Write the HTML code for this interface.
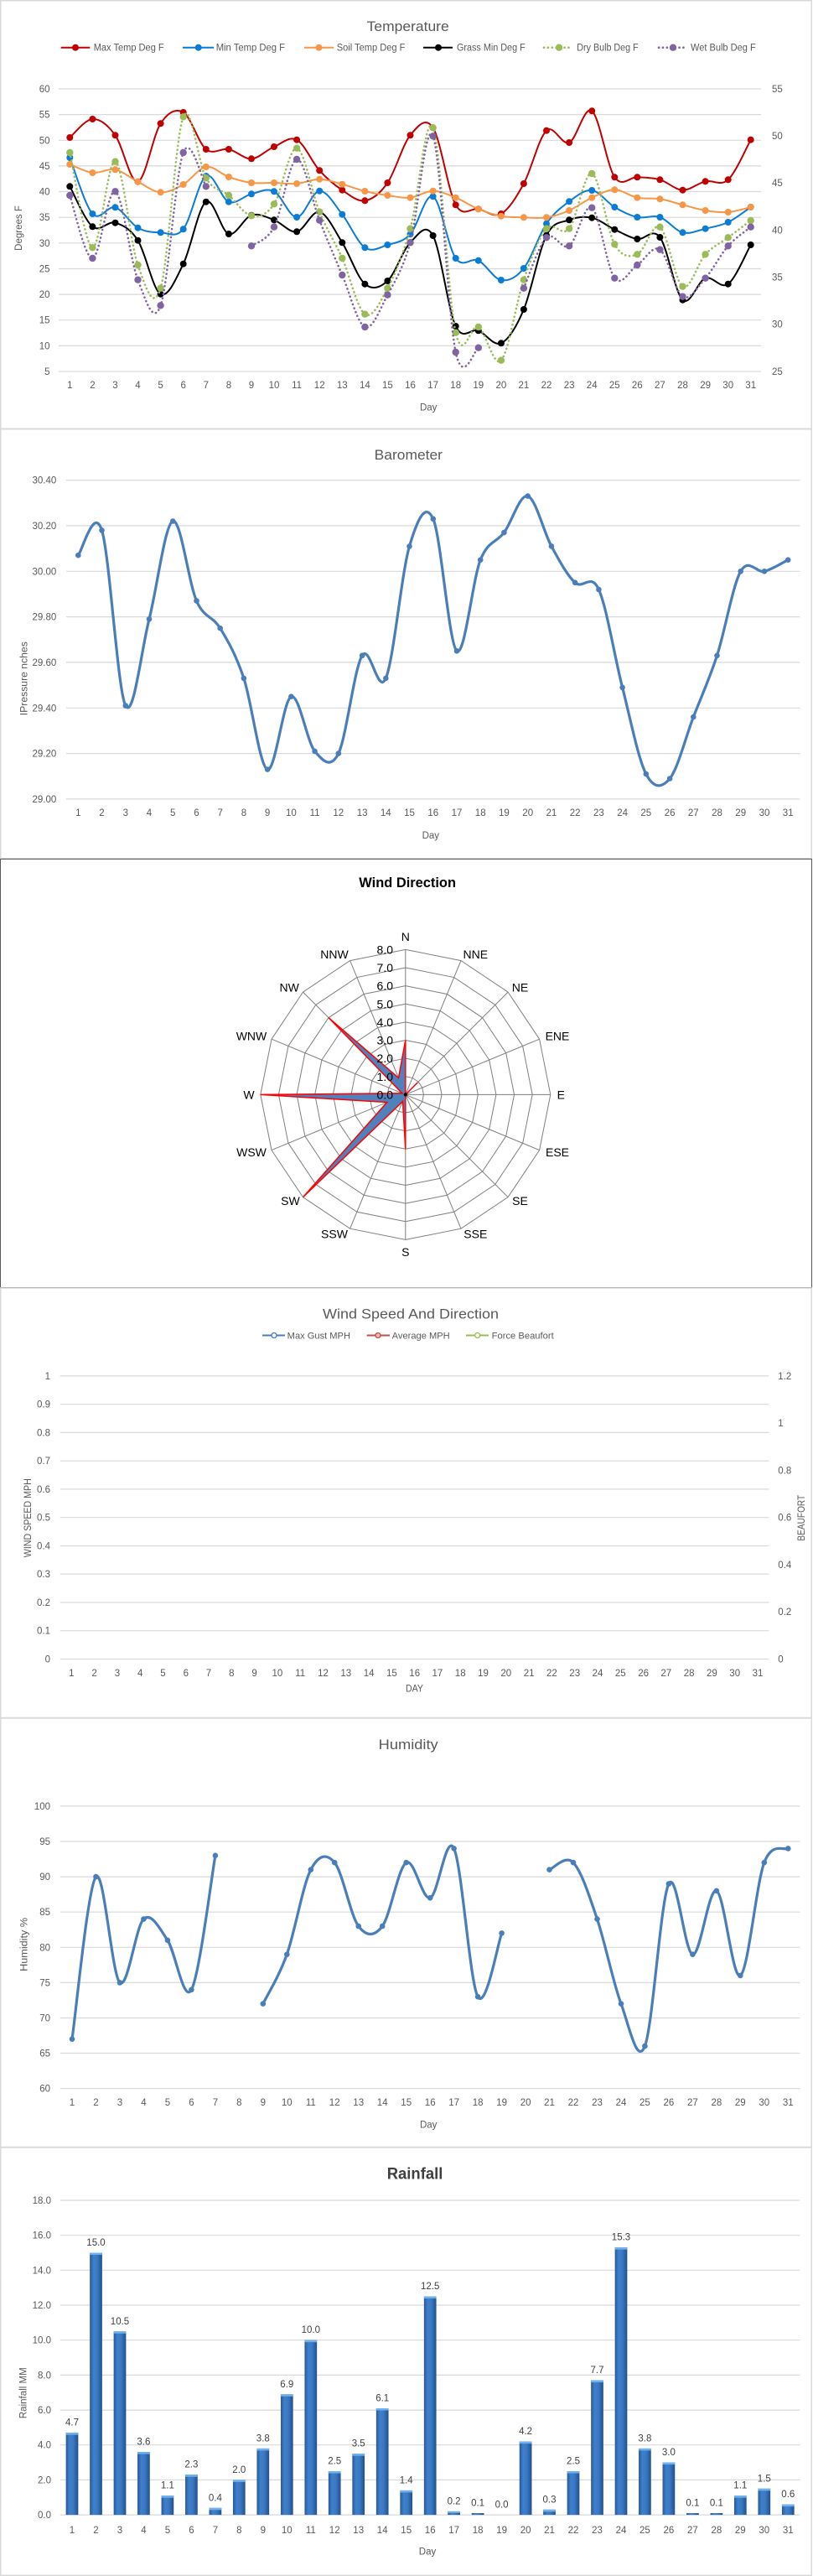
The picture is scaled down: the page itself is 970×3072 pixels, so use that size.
<!DOCTYPE html>
<html><head><meta charset="utf-8"><title>Weather Charts</title>
<style>
html,body{margin:0;padding:0;background:#fff;}
svg{display:block;}
text{font-family:"Liberation Sans",Arial,sans-serif;}
.t{fill:#595959;font-size:11.5px;}
.ttl{fill:#595959;font-size:17px;}
.ax{fill:#595959;font-size:11.5px;}
.wd{fill:#000;font-size:14px;}
.g line{stroke:#d9d9d9;stroke-width:1.2;}
</style></head>
<body>
<svg id="root" width="970" height="3072" viewBox="0 0 970 3072">
<defs>
<marker id="mRed" viewBox="-6 -6 12 12" markerWidth="12" markerHeight="12" refX="0" refY="0" markerUnits="userSpaceOnUse"><circle r="4" fill="#C00000"/></marker>
<marker id="mBlu" viewBox="-6 -6 12 12" markerWidth="12" markerHeight="12" refX="0" refY="0" markerUnits="userSpaceOnUse"><circle r="4" fill="#0A7CD6"/></marker>
<marker id="mOra" viewBox="-6 -6 12 12" markerWidth="12" markerHeight="12" refX="0" refY="0" markerUnits="userSpaceOnUse"><circle r="4" fill="#F79646"/></marker>
<marker id="mBlk" viewBox="-6 -6 12 12" markerWidth="12" markerHeight="12" refX="0" refY="0" markerUnits="userSpaceOnUse"><circle r="4" fill="#000"/></marker>
<marker id="mGrn" viewBox="-6 -6 12 12" markerWidth="12" markerHeight="12" refX="0" refY="0" markerUnits="userSpaceOnUse"><circle r="4.2" fill="#9BBB59"/></marker>
<marker id="mPur" viewBox="-6 -6 12 12" markerWidth="12" markerHeight="12" refX="0" refY="0" markerUnits="userSpaceOnUse"><circle r="4.2" fill="#8064A2"/></marker>
<marker id="mB" viewBox="-6 -6 12 12" markerWidth="12" markerHeight="12" refX="0" refY="0" markerUnits="userSpaceOnUse"><circle r="3.3" fill="#4A7EBB"/></marker>
<linearGradient id="barG" x1="0" y1="0" x2="1" y2="0">
<stop offset="0" stop-color="#2A5894"/><stop offset="0.3" stop-color="#3E80CE"/><stop offset="0.6" stop-color="#3A79C3"/><stop offset="1" stop-color="#23508A"/>
</linearGradient>
</defs>

<!-- ================= TEMPERATURE ================= -->
<rect x="0.75" y="0.75" width="967.5" height="510.5" fill="#fff" stroke="#d9d9d9" stroke-width="1.5"/>
<text class="ttl" x="437.7" y="37" textLength="98" lengthAdjust="spacingAndGlyphs">Temperature</text>
<g font-size="11.5" fill="#595959">
<line x1="72.7" y1="56.7" x2="107.3" y2="56.7" stroke="#C00000" stroke-width="2"/><circle cx="90" cy="56.7" r="4" fill="#C00000"/>
<text x="111.7" y="60.7" textLength="84" lengthAdjust="spacingAndGlyphs">Max Temp Deg F</text>
<line x1="218" y1="56.7" x2="255" y2="56.7" stroke="#0A7CD6" stroke-width="2"/><circle cx="236.7" cy="56.7" r="4" fill="#0A7CD6"/>
<text x="257.7" y="60.7" textLength="82.3" lengthAdjust="spacingAndGlyphs">Min Temp Deg F</text>
<line x1="363" y1="56.7" x2="398" y2="56.7" stroke="#F79646" stroke-width="2"/><circle cx="380.5" cy="56.7" r="4" fill="#F79646"/>
<text x="401.7" y="60.7" textLength="81.7" lengthAdjust="spacingAndGlyphs">Soil Temp Deg F</text>
<line x1="505" y1="56.7" x2="540" y2="56.7" stroke="#000" stroke-width="2"/><circle cx="523" cy="56.7" r="4" fill="#000"/>
<text x="545" y="60.7" textLength="81.7" lengthAdjust="spacingAndGlyphs">Grass Min Deg F</text>
<line x1="649" y1="56.7" x2="683" y2="56.7" stroke="#9BBB59" stroke-width="2.6" stroke-dasharray="0.1 4.8" stroke-linecap="round"/><circle cx="667" cy="56.7" r="4.2" fill="#9BBB59"/>
<text x="688.3" y="60.7" textLength="73.3" lengthAdjust="spacingAndGlyphs">Dry Bulb Deg F</text>
<line x1="786" y1="56.7" x2="819" y2="56.7" stroke="#8064A2" stroke-width="2.6" stroke-dasharray="0.1 4.8" stroke-linecap="round"/><circle cx="803" cy="56.7" r="4.2" fill="#8064A2"/>
<text x="824" y="60.7" textLength="77.7" lengthAdjust="spacingAndGlyphs">Wet Bulb Deg F</text>
</g>
<g class="g">
<line x1="70" x2="908" y1="106" y2="106"/><line x1="70" x2="908" y1="136.6" y2="136.6"/><line x1="70" x2="908" y1="167.3" y2="167.3"/><line x1="70" x2="908" y1="197.9" y2="197.9"/><line x1="70" x2="908" y1="228.5" y2="228.5"/><line x1="70" x2="908" y1="259.2" y2="259.2"/><line x1="70" x2="908" y1="289.8" y2="289.8"/><line x1="70" x2="908" y1="320.5" y2="320.5"/><line x1="70" x2="908" y1="351.1" y2="351.1"/><line x1="70" x2="908" y1="381.7" y2="381.7"/><line x1="70" x2="908" y1="412.4" y2="412.4"/><line x1="70" x2="908" y1="443" y2="443"/>
</g>
<g class="t" text-anchor="end">
<text x="59.5" y="110">60</text><text x="59.5" y="140.6">55</text><text x="59.5" y="171.3">50</text><text x="59.5" y="201.9">45</text><text x="59.5" y="232.5">40</text><text x="59.5" y="263.2">35</text><text x="59.5" y="293.8">30</text><text x="59.5" y="324.5">25</text><text x="59.5" y="355.1">20</text><text x="59.5" y="385.7">15</text><text x="59.5" y="416.4">10</text><text x="59.5" y="447">5</text>
</g>
<g class="t">
<text x="921" y="110">55</text><text x="921" y="166">50</text><text x="921" y="222">45</text><text x="921" y="278.3">40</text><text x="921" y="334.3">35</text><text x="921" y="390.3">30</text><text x="921" y="447">25</text>
</g>
<g class="t" text-anchor="middle">
<text x="83.3" y="463">1</text><text x="110.4" y="463">2</text><text x="137.5" y="463">3</text><text x="164.5" y="463">4</text><text x="191.6" y="463">5</text><text x="218.7" y="463">6</text><text x="245.8" y="463">7</text><text x="272.9" y="463">8</text><text x="300" y="463">9</text><text x="327" y="463">10</text><text x="354.1" y="463">11</text><text x="381.2" y="463">12</text><text x="408.3" y="463">13</text><text x="435.4" y="463">14</text><text x="462.4" y="463">15</text><text x="489.5" y="463">16</text><text x="516.6" y="463">17</text><text x="543.7" y="463">18</text><text x="570.8" y="463">19</text><text x="597.9" y="463">20</text><text x="624.9" y="463">21</text><text x="652" y="463">22</text><text x="679.1" y="463">23</text><text x="706.2" y="463">24</text><text x="733.3" y="463">25</text><text x="760.3" y="463">26</text><text x="787.4" y="463">27</text><text x="814.5" y="463">28</text><text x="841.6" y="463">29</text><text x="868.7" y="463">30</text><text x="895.7" y="463">31</text>
</g>
<text class="ax" x="511.2" y="489.7" text-anchor="middle" font-size="12">Day</text>
<text class="ax" x="0" y="0" text-anchor="middle" transform="translate(26,272) rotate(-90)" font-size="12">Degrees F</text>

<polyline class="s" fill="none" stroke="#C00000" stroke-width="2" marker-start="url(#mRed)" marker-mid="url(#mRed)" marker-end="url(#mRed)" points="83.3,164 110.4,142 137.5,161.3 164.5,216.7 191.6,147.3 218.7,134 245.8,178 272.9,178 300,189.3 327,175 354.1,166.7 381.2,203.3 408.3,226.7 435.4,239.3 462.4,218 489.5,161.3 516.6,152.3 543.7,244.3 570.8,249.3 597.9,255 624.9,219 652,155.7 679.1,170 706.2,132.3 733.3,211.3 760.3,211.3 787.4,214.3 814.5,226.7 841.6,216.3 868.7,214.3 895.7,166.7"/>
<polyline class="s" fill="none" stroke="#0A7CD6" stroke-width="2" marker-start="url(#mBlu)" marker-mid="url(#mBlu)" marker-end="url(#mBlu)" points="83.3,188 110.4,255 137.5,247.3 164.5,271.7 191.6,277.3 218.7,273.3 245.8,210 272.9,240.7 300,231.3 327,228.3 354.1,259 381.2,227.7 408.3,255.7 435.4,295.3 462.4,292 489.5,279.3 516.6,234.3 543.7,308 570.8,310.7 597.9,334 624.9,320 652,266.7 679.1,240.3 706.2,227 733.3,247 760.3,259 787.4,259 814.5,277.3 841.6,272.7 868.7,265 895.7,247"/>
<polyline class="s" fill="none" stroke="#F79646" stroke-width="2" marker-start="url(#mOra)" marker-mid="url(#mOra)" marker-end="url(#mOra)" points="83.3,196 110.4,206 137.5,202.3 164.5,216.7 191.6,229.3 218.7,220 245.8,199 272.9,211 300,218 327,218 354.1,219 381.2,213.7 408.3,219.7 435.4,228 462.4,233 489.5,235.7 516.6,227.7 543.7,235.7 570.8,249.3 597.9,257.7 624.9,259.3 652,259.3 679.1,251 706.2,235.7 733.3,226.3 760.3,235.7 787.4,237.3 814.5,244.3 841.6,251 868.7,253 895.7,247"/>
<polyline class="s" fill="none" stroke="#000" stroke-width="2" marker-start="url(#mBlk)" marker-mid="url(#mBlk)" marker-end="url(#mBlk)" points="83.3,222.3 110.4,270.3 137.5,265.7 164.5,286.7 191.6,350.7 218.7,314.7 245.8,240.7 272.9,279 300,256.7 327,262.3 354.1,276.3 381.2,252.7 408.3,289.3 435.4,338.7 462.4,335 489.5,289.3 516.6,281 543.7,389 570.8,394.3 597.9,409.3 624.9,369 652,280.7 679.1,262.3 706.2,259.7 733.3,273.7 760.3,285 787.4,283 814.5,357.7 841.6,331.7 868.7,338.7 895.7,292"/>
<polyline class="s" fill="none" stroke="#9BBB59" stroke-width="2.6" stroke-dasharray="0.1 4.8" stroke-linecap="round" marker-start="url(#mGrn)" marker-mid="url(#mGrn)" marker-end="url(#mGrn)" points="83.3,182 110.4,295.3 137.5,192.7 164.5,316 191.6,343.7 218.7,139.3 245.8,212.3 272.9,233 300,257.3 327,243.3 354.1,176.7 381.2,252.7 408.3,308 435.4,374.7 462.4,343.7 489.5,272.7 516.6,152.3 543.7,396.7 570.8,390 597.9,429.7 624.9,333.7 652,272.7 679.1,272.7 706.2,207 733.3,291.3 760.3,303.3 787.4,270.7 814.5,341.7 841.6,303.3 868.7,283.3 895.7,263"/>
<polyline class="s" fill="none" stroke="#8064A2" stroke-width="2.6" stroke-dasharray="0.1 4.8" stroke-linecap="round" marker-start="url(#mPur)" marker-mid="url(#mPur)" marker-end="url(#mPur)" points="83.3,233 110.4,308 137.5,228.3 164.5,333.7 191.6,364.3 218.7,182 245.8,222.3"/>
<polyline class="s" fill="none" stroke="#8064A2" stroke-width="2.6" stroke-dasharray="0.1 4.8" stroke-linecap="round" marker-start="url(#mPur)" marker-mid="url(#mPur)" marker-end="url(#mPur)" points="300,293.3 327,270.7 354.1,190 381.2,262.7 408.3,328 435.4,390 462.4,351.7 489.5,289.3 516.6,162.3 543.7,420 570.8,414.7"/>
<polyline class="s" fill="none" stroke="#8064A2" stroke-width="2.6" stroke-dasharray="0.1 4.8" stroke-linecap="round" marker-start="url(#mPur)" marker-mid="url(#mPur)" marker-end="url(#mPur)" points="624.9,343.7 652,283.3 679.1,293.3 706.2,247.7 733.3,331.7 760.3,316 787.4,297.7 814.5,353.7 841.6,331.7 868.7,293.3 895.7,270.7"/>

<!-- ================= BAROMETER ================= -->
<rect x="0.75" y="511.75" width="967.5" height="512" fill="#fff" stroke="#d9d9d9" stroke-width="1.5"/>
<text class="ttl" x="446.7" y="548.2" textLength="81.3" lengthAdjust="spacingAndGlyphs">Barometer</text>
<g class="g">
<line x1="79" x2="954.3" y1="572.6" y2="572.6"/><line x1="79" x2="954.3" y1="626.9" y2="626.9"/><line x1="79" x2="954.3" y1="681.3" y2="681.3"/><line x1="79" x2="954.3" y1="735.6" y2="735.6"/><line x1="79" x2="954.3" y1="789.9" y2="789.9"/><line x1="79" x2="954.3" y1="844.3" y2="844.3"/><line x1="79" x2="954.3" y1="898.6" y2="898.6"/><line x1="79" x2="954.3" y1="952.9" y2="952.9"/>
</g>
<g class="t" text-anchor="end">
<text x="67.3" y="576.6">30.40</text><text x="67.3" y="630.9">30.20</text><text x="67.3" y="685.3">30.00</text><text x="67.3" y="739.6">29.80</text><text x="67.3" y="793.9">29.60</text><text x="67.3" y="848.3">29.40</text><text x="67.3" y="902.6">29.20</text><text x="67.3" y="956.9">29.00</text>
</g>
<g class="t" text-anchor="middle">
<text x="93.3" y="973.1">1</text><text x="121.5" y="973.1">2</text><text x="149.8" y="973.1">3</text><text x="178" y="973.1">4</text><text x="206.2" y="973.1">5</text><text x="234.5" y="973.1">6</text><text x="262.7" y="973.1">7</text><text x="290.9" y="973.1">8</text><text x="319.1" y="973.1">9</text><text x="347.4" y="973.1">10</text><text x="375.6" y="973.1">11</text><text x="403.8" y="973.1">12</text><text x="432.1" y="973.1">13</text><text x="460.3" y="973.1">14</text><text x="488.5" y="973.1">15</text><text x="516.8" y="973.1">16</text><text x="545" y="973.1">17</text><text x="573.2" y="973.1">18</text><text x="601.4" y="973.1">19</text><text x="629.7" y="973.1">20</text><text x="657.9" y="973.1">21</text><text x="686.1" y="973.1">22</text><text x="714.4" y="973.1">23</text><text x="742.6" y="973.1">24</text><text x="770.8" y="973.1">25</text><text x="799.1" y="973.1">26</text><text x="827.3" y="973.1">27</text><text x="855.5" y="973.1">28</text><text x="883.7" y="973.1">29</text><text x="912" y="973.1">30</text><text x="940.2" y="973.1">31</text>
</g>
<text class="ax" x="513.8" y="999.8" text-anchor="middle" font-size="12">Day</text>
<text class="ax" x="0" y="0" text-anchor="middle" transform="translate(32.5,809.2) rotate(-90)" textLength="88" lengthAdjust="spacingAndGlyphs">IPressure nches</text>
<polyline class="s" fill="none" stroke="#4A7EBB" stroke-width="3.2" stroke-linejoin="round" marker-start="url(#mB)" marker-mid="url(#mB)" marker-end="url(#mB)" points="93.3,662.2 121.5,632.4 149.8,841.5 178,738.3 206.2,621.5 234.5,716.6 262.7,749.2 290.9,808.9 319.1,917.6 347.4,830.7 375.6,895.9 403.8,898.6 432.1,781.8 460.3,808.9 488.5,651.4 516.8,618.8 545,776.3 573.2,667.7 601.4,635.1 629.7,591.6 657.9,651.4 686.1,694.8 714.4,703 742.6,819.8 770.8,923 799.1,928.5 827.3,855.1 855.5,781.8 883.7,681.3 912,681.3 940.2,667.7"/>

<!-- ================= WIND DIRECTION ================= -->
<rect x="0.5" y="1024.5" width="968" height="511" fill="#fff" stroke="#595959" stroke-width="1"/>
<text x="428.3" y="1057.8" font-size="16.5" font-weight="bold" fill="#000" textLength="115.7" lengthAdjust="spacingAndGlyphs">Wind Direction</text>
<g transform="translate(483.8,1305.4)" fill="none" stroke="#7f7f7f" stroke-width="1">
<polygon id="ring" points="0,-21.625 8.276,-19.979 15.291,-15.291 19.979,-8.276 21.625,0 19.979,8.276 15.291,15.291 8.276,19.979 0,21.625 -8.276,19.979 -15.291,15.291 -19.979,8.276 -21.625,0 -19.979,-8.276 -15.291,-15.291 -8.276,-19.979"/>
<polygon points="0,-43.25 16.552,-39.958 30.582,-30.582 39.958,-16.552 43.25,0 39.958,16.552 30.582,30.582 16.552,39.958 0,43.25 -16.552,39.958 -30.582,30.582 -39.958,16.552 -43.25,0 -39.958,-16.552 -30.582,-30.582 -16.552,-39.958"/>
<polygon points="0,-64.875 24.828,-59.937 45.873,-45.873 59.937,-24.828 64.875,0 59.937,24.828 45.873,45.873 24.828,59.937 0,64.875 -24.828,59.937 -45.873,45.873 -59.937,24.828 -64.875,0 -59.937,-24.828 -45.873,-45.873 -24.828,-59.937"/>
<polygon points="0,-86.5 33.104,-79.916 61.164,-61.164 79.916,-33.104 86.5,0 79.916,33.104 61.164,61.164 33.104,79.916 0,86.5 -33.104,79.916 -61.164,61.164 -79.916,33.104 -86.5,0 -79.916,-33.104 -61.164,-61.164 -33.104,-79.916"/>
<polygon points="0,-108.125 41.38,-99.895 76.455,-76.455 99.895,-41.38 108.125,0 99.895,41.38 76.455,76.455 41.38,99.895 0,108.125 -41.38,99.895 -76.455,76.455 -99.895,41.38 -108.125,0 -99.895,-41.38 -76.455,-76.455 -41.38,-99.895"/>
<polygon points="0,-129.75 49.656,-119.874 91.746,-91.746 119.874,-49.656 129.75,0 119.874,49.656 91.746,91.746 49.656,119.874 0,129.75 -49.656,119.874 -91.746,91.746 -119.874,49.656 -129.75,0 -119.874,-49.656 -91.746,-91.746 -49.656,-119.874"/>
<polygon points="0,-151.375 57.932,-139.853 107.037,-107.037 139.853,-57.932 151.375,0 139.853,57.932 107.037,107.037 57.932,139.853 0,151.375 -57.932,139.853 -107.037,107.037 -139.853,57.932 -151.375,0 -139.853,-57.932 -107.037,-107.037 -57.932,-139.853"/>
<polygon points="0,-173 66.2,-159.8 122.3,-122.3 159.8,-66.2 173,0 159.8,66.2 122.3,122.3 66.2,159.8 0,173 -66.2,159.8 -122.3,122.3 -159.8,66.2 -173,0 -159.8,-66.2 -122.3,-122.3 -66.2,-159.8"/>
<path d="M0 0L0 -173M0 0L66.2 -159.8M0 0L122.3 -122.3M0 0L159.8 -66.2M0 0L173 0M0 0L159.8 66.2M0 0L122.3 122.3M0 0L66.2 159.8M0 0L0 173M0 0L-66.2 159.8M0 0L-122.3 122.3M0 0L-159.8 66.2M0 0L-173 0M0 0L-159.8 -66.2M0 0L-122.3 -122.3M0 0L-66.2 -159.8"/>
</g>
<polygon fill="#4F81BD" stroke="#FF0000" stroke-width="1.5" stroke-linejoin="miter" points="483.8,1240.5 483.8,1305.4 498.3,1290.9 483.8,1305.4 483.8,1305.4 483.8,1305.4 483.8,1305.4 483.8,1305.4 483.8,1370.3 480.5,1313.4 361.5,1427.7 461.8,1314.5 310.8,1305.4 479.8,1303.8 392.1,1213.7 475.5,1285.4"/>
<circle cx="483.8" cy="1305.4" r="2" fill="#000"/>
<g class="wd" text-anchor="end">
<text x="469" y="1310.4">0.0</text><text x="469" y="1288.8">1.0</text><text x="469" y="1267.2">2.0</text><text x="469" y="1245.5">3.0</text><text x="469" y="1223.9">4.0</text><text x="469" y="1202.3">5.0</text><text x="469" y="1180.6">6.0</text><text x="469" y="1159">7.0</text><text x="469" y="1137.4">8.0</text>
</g>
<g class="wd" text-anchor="middle">
<text x="483.8" y="1121.8">N</text><text x="567.3" y="1143.2">NNE</text><text x="620.5" y="1182.5">NE</text><text x="665" y="1240.7">ENE</text><text x="669.3" y="1310.4">E</text><text x="665" y="1379">ESE</text><text x="620.5" y="1437">SE</text><text x="567.3" y="1476.4">SSE</text><text x="483.8" y="1497.9">S</text><text x="399" y="1476.4">SSW</text><text x="346.4" y="1437">SW</text><text x="300" y="1379">WSW</text><text x="297" y="1310.4">W</text><text x="300" y="1240.7">WNW</text><text x="345.2" y="1182.5">NW</text><text x="399" y="1143.2">NNW</text>
</g>

<!-- ================= WIND SPEED ================= -->
<rect x="0.75" y="1536" width="967.5" height="512.5" fill="#fff" stroke="#d9d9d9" stroke-width="1.5"/>
<text class="ttl" x="385" y="1572.5" textLength="210" lengthAdjust="spacingAndGlyphs">Wind Speed And Direction</text>
<g font-size="11" fill="#595959">
<line x1="313" y1="1592.5" x2="340" y2="1592.5" stroke="#4A7EBB" stroke-width="2"/><circle cx="327" cy="1592.5" r="3" fill="#fff" stroke="#4A7EBB" stroke-width="1.3"/>
<text x="342.7" y="1596.5" textLength="75.3" lengthAdjust="spacingAndGlyphs">Max Gust MPH</text>
<line x1="437.7" y1="1592.5" x2="465" y2="1592.5" stroke="#C0504D" stroke-width="2"/><circle cx="451" cy="1592.5" r="3" fill="#F2B8B6" stroke="#C0504D" stroke-width="1.3"/>
<text x="467.7" y="1596.5" textLength="69" lengthAdjust="spacingAndGlyphs">Average MPH</text>
<line x1="556" y1="1592.5" x2="583" y2="1592.5" stroke="#9BBB59" stroke-width="2"/><circle cx="569.7" cy="1592.5" r="3" fill="#fff" stroke="#9BBB59" stroke-width="1.3"/>
<text x="586.7" y="1596.5" textLength="74" lengthAdjust="spacingAndGlyphs">Force Beaufort</text>
</g>
<g class="g">
<line x1="71.7" x2="917.3" y1="1640.9" y2="1640.9"/><line x1="71.7" x2="917.3" y1="1674.7" y2="1674.7"/><line x1="71.7" x2="917.3" y1="1708.4" y2="1708.4"/><line x1="71.7" x2="917.3" y1="1742.2" y2="1742.2"/><line x1="71.7" x2="917.3" y1="1775.9" y2="1775.9"/><line x1="71.7" x2="917.3" y1="1809.7" y2="1809.7"/><line x1="71.7" x2="917.3" y1="1843.5" y2="1843.5"/><line x1="71.7" x2="917.3" y1="1877.2" y2="1877.2"/><line x1="71.7" x2="917.3" y1="1911" y2="1911"/><line x1="71.7" x2="917.3" y1="1944.7" y2="1944.7"/><line x1="71.7" x2="917.3" y1="1978.5" y2="1978.5"/>
</g>
<g class="t" text-anchor="end">
<text x="60" y="1644.9">1</text><text x="60" y="1678.7">0.9</text><text x="60" y="1712.4">0.8</text><text x="60" y="1746.2">0.7</text><text x="60" y="1779.9">0.6</text><text x="60" y="1813.7">0.5</text><text x="60" y="1847.5">0.4</text><text x="60" y="1881.2">0.3</text><text x="60" y="1915">0.2</text><text x="60" y="1948.7">0.1</text><text x="60" y="1982.5">0</text>
</g>
<g class="t">
<text x="928.3" y="1644.9">1.2</text><text x="928.3" y="1701.2">1</text><text x="928.3" y="1757.4">0.8</text><text x="928.3" y="1813.7">0.6</text><text x="928.3" y="1870">0.4</text><text x="928.3" y="1926.2">0.2</text><text x="928.3" y="1982.5">0</text>
</g>
<g class="t" text-anchor="middle">
<text x="85.3" y="1998.8">1</text><text x="112.6" y="1998.8">2</text><text x="139.9" y="1998.8">3</text><text x="167.2" y="1998.8">4</text><text x="194.5" y="1998.8">5</text><text x="221.8" y="1998.8">6</text><text x="249" y="1998.8">7</text><text x="276.3" y="1998.8">8</text><text x="303.6" y="1998.8">9</text><text x="330.9" y="1998.8">10</text><text x="358.2" y="1998.8">11</text><text x="385.5" y="1998.8">12</text><text x="412.8" y="1998.8">13</text><text x="440.1" y="1998.8">14</text><text x="467.4" y="1998.8">15</text><text x="494.7" y="1998.8">16</text><text x="521.9" y="1998.8">17</text><text x="549.2" y="1998.8">18</text><text x="576.5" y="1998.8">19</text><text x="603.8" y="1998.8">20</text><text x="631.1" y="1998.8">21</text><text x="658.4" y="1998.8">22</text><text x="685.7" y="1998.8">23</text><text x="713" y="1998.8">24</text><text x="740.3" y="1998.8">25</text><text x="767.6" y="1998.8">26</text><text x="794.8" y="1998.8">27</text><text x="822.1" y="1998.8">28</text><text x="849.4" y="1998.8">29</text><text x="876.7" y="1998.8">30</text><text x="904" y="1998.8">31</text>
</g>
<text class="ax" x="494.5" y="2017.5" text-anchor="middle" font-size="10" textLength="21" lengthAdjust="spacingAndGlyphs">DAY</text>
<text class="ax" x="0" y="0" text-anchor="middle" transform="translate(36.8,1810.2) rotate(-90)" font-size="9.5" textLength="94" lengthAdjust="spacingAndGlyphs">WIND SPEED MPH</text>
<text class="ax" x="0" y="0" text-anchor="middle" transform="translate(960.2,1810.2) rotate(-90)" font-size="9.5" textLength="54.8" lengthAdjust="spacingAndGlyphs">BEAUFORT</text>

<!-- ================= HUMIDITY ================= -->
<rect x="0.75" y="2049" width="967.5" height="511.5" fill="#fff" stroke="#d9d9d9" stroke-width="1.5"/>
<text class="ttl" x="451.7" y="2085.9" textLength="71" lengthAdjust="spacingAndGlyphs">Humidity</text>
<g class="g">
<line x1="71.7" x2="954.3" y1="2153.9" y2="2153.9"/><line x1="71.7" x2="954.3" y1="2196" y2="2196"/><line x1="71.7" x2="954.3" y1="2238.1" y2="2238.1"/><line x1="71.7" x2="954.3" y1="2280.2" y2="2280.2"/><line x1="71.7" x2="954.3" y1="2322.3" y2="2322.3"/><line x1="71.7" x2="954.3" y1="2364.4" y2="2364.4"/><line x1="71.7" x2="954.3" y1="2406.5" y2="2406.5"/><line x1="71.7" x2="954.3" y1="2448.5" y2="2448.5"/><line x1="71.7" x2="954.3" y1="2490.6" y2="2490.6"/>
</g>
<g class="t" text-anchor="end">
<text x="60" y="2157.9">100</text><text x="60" y="2200">95</text><text x="60" y="2242.1">90</text><text x="60" y="2284.2">85</text><text x="60" y="2326.3">80</text><text x="60" y="2368.4">75</text><text x="60" y="2410.5">70</text><text x="60" y="2452.5">65</text><text x="60" y="2494.6">60</text>
</g>
<g class="t" text-anchor="middle">
<text x="86" y="2510.8">1</text><text x="114.5" y="2510.8">2</text><text x="143" y="2510.8">3</text><text x="171.4" y="2510.8">4</text><text x="199.9" y="2510.8">5</text><text x="228.4" y="2510.8">6</text><text x="256.9" y="2510.8">7</text><text x="285.3" y="2510.8">8</text><text x="313.8" y="2510.8">9</text><text x="342.3" y="2510.8">10</text><text x="370.8" y="2510.8">11</text><text x="399.2" y="2510.8">12</text><text x="427.7" y="2510.8">13</text><text x="456.2" y="2510.8">14</text><text x="484.7" y="2510.8">15</text><text x="513.2" y="2510.8">16</text><text x="541.6" y="2510.8">17</text><text x="570.1" y="2510.8">18</text><text x="598.6" y="2510.8">19</text><text x="627.1" y="2510.8">20</text><text x="655.5" y="2510.8">21</text><text x="684" y="2510.8">22</text><text x="712.5" y="2510.8">23</text><text x="741" y="2510.8">24</text><text x="769.4" y="2510.8">25</text><text x="797.9" y="2510.8">26</text><text x="826.4" y="2510.8">27</text><text x="854.9" y="2510.8">28</text><text x="883.3" y="2510.8">29</text><text x="911.8" y="2510.8">30</text><text x="940.3" y="2510.8">31</text>
</g>
<text class="ax" x="511.2" y="2537.5" text-anchor="middle" font-size="12">Day</text>
<text class="ax" x="0" y="0" text-anchor="middle" transform="translate(32.5,2318.9) rotate(-90)" font-size="12" textLength="64" lengthAdjust="spacingAndGlyphs">Humidity %</text>
<polyline class="s" fill="none" stroke="#4A7EBB" stroke-width="3.2" stroke-linejoin="round" marker-start="url(#mB)" marker-mid="url(#mB)" marker-end="url(#mB)" points="86,2431.7 114.5,2238.1 143,2364.4 171.4,2288.6 199.9,2313.8 228.4,2372.8 256.9,2212.8"/>
<polyline class="s" fill="none" stroke="#4A7EBB" stroke-width="3.2" stroke-linejoin="round" marker-start="url(#mB)" marker-mid="url(#mB)" marker-end="url(#mB)" points="313.8,2389.6 342.3,2330.7 370.8,2229.7 399.2,2221.2 427.7,2297 456.2,2297 484.7,2221.2 513.2,2263.3 541.6,2204.4 570.1,2381.2 598.6,2305.4"/>
<polyline class="s" fill="none" stroke="#4A7EBB" stroke-width="3.2" stroke-linejoin="round" marker-start="url(#mB)" marker-mid="url(#mB)" marker-end="url(#mB)" points="655.5,2229.7 684,2221.2 712.5,2288.6 741,2389.6 769.4,2440.1 797.9,2246.5 826.4,2330.7 854.9,2254.9 883.3,2355.9 911.8,2221.2 940.3,2204.4"/>

<!-- ================= RAINFALL ================= -->
<rect x="0.75" y="2561" width="967.5" height="510.25" fill="#fff" stroke="#d9d9d9" stroke-width="1.5"/>
<text x="461.7" y="2598.6" font-size="19" font-weight="bold" fill="#404040" textLength="66.7" lengthAdjust="spacingAndGlyphs">Rainfall</text>
<g class="g">
<line x1="71.7" x2="954.3" y1="2624" y2="2624"/><line x1="71.7" x2="954.3" y1="2665.7" y2="2665.7"/><line x1="71.7" x2="954.3" y1="2707.3" y2="2707.3"/><line x1="71.7" x2="954.3" y1="2749" y2="2749"/><line x1="71.7" x2="954.3" y1="2790.7" y2="2790.7"/><line x1="71.7" x2="954.3" y1="2832.4" y2="2832.4"/><line x1="71.7" x2="954.3" y1="2874.1" y2="2874.1"/><line x1="71.7" x2="954.3" y1="2915.7" y2="2915.7"/><line x1="71.7" x2="954.3" y1="2957.4" y2="2957.4"/><line x1="71.7" x2="954.3" y1="2999.1" y2="2999.1"/>
</g>
<g class="t" text-anchor="end">
<text x="61" y="2628">18.0</text><text x="61" y="2669.7">16.0</text><text x="61" y="2711.3">14.0</text><text x="61" y="2753">12.0</text><text x="61" y="2794.7">10.0</text><text x="61" y="2836.4">8.0</text><text x="61" y="2878.1">6.0</text><text x="61" y="2919.7">4.0</text><text x="61" y="2961.4">2.0</text><text x="61" y="3003.1">0.0</text>
</g>
<g fill="url(#barG)">
<rect x="78.65" y="2901.2" width="14.7" height="97.9"/><rect x="107.15" y="2686.5" width="14.7" height="312.6"/><rect x="135.65" y="2780.3" width="14.7" height="218.8"/><rect x="164.05" y="2924.1" width="14.7" height="75"/><rect x="192.55" y="2976.2" width="14.7" height="22.9"/><rect x="221.05" y="2951.2" width="14.7" height="47.9"/><rect x="249.55" y="2990.8" width="14.7" height="8.3"/><rect x="277.95" y="2957.4" width="14.7" height="41.7"/><rect x="306.45" y="2919.9" width="14.7" height="79.2"/><rect x="334.95" y="2855.3" width="14.7" height="143.8"/><rect x="363.45" y="2790.7" width="14.7" height="208.4"/><rect x="391.85" y="2947" width="14.7" height="52.1"/><rect x="420.35" y="2926.2" width="14.7" height="72.9"/><rect x="448.85" y="2872" width="14.7" height="127.1"/><rect x="477.35" y="2969.9" width="14.7" height="29.2"/><rect x="505.85" y="2738.6" width="14.7" height="260.5"/><rect x="534.25" y="2994.9" width="14.7" height="4.2"/><rect x="562.75" y="2997" width="14.7" height="2.1"/><rect x="619.75" y="2911.6" width="14.7" height="87.5"/><rect x="648.15" y="2992.8" width="14.7" height="6.3"/><rect x="676.65" y="2947" width="14.7" height="52.1"/><rect x="705.15" y="2838.6" width="14.7" height="160.5"/><rect x="733.65" y="2680.2" width="14.7" height="318.9"/><rect x="762.05" y="2919.9" width="14.7" height="79.2"/><rect x="790.55" y="2936.6" width="14.7" height="62.5"/><rect x="819.05" y="2997" width="14.7" height="2.1"/><rect x="847.55" y="2997" width="14.7" height="2.1"/><rect x="875.95" y="2976.2" width="14.7" height="22.9"/><rect x="904.45" y="2967.8" width="14.7" height="31.3"/><rect x="932.95" y="2986.6" width="14.7" height="12.5"/>
</g>
<g fill="#6FB0EE">
<rect x="78.65" y="2901.2" width="14.7" height="2.5"/><rect x="107.15" y="2686.5" width="14.7" height="2.5"/><rect x="135.65" y="2780.3" width="14.7" height="2.5"/><rect x="164.05" y="2924.1" width="14.7" height="2.5"/><rect x="192.55" y="2976.2" width="14.7" height="2.5"/><rect x="221.05" y="2951.2" width="14.7" height="2.5"/><rect x="249.55" y="2990.8" width="14.7" height="2.5"/><rect x="277.95" y="2957.4" width="14.7" height="2.5"/><rect x="306.45" y="2919.9" width="14.7" height="2.5"/><rect x="334.95" y="2855.3" width="14.7" height="2.5"/><rect x="363.45" y="2790.7" width="14.7" height="2.5"/><rect x="391.85" y="2947" width="14.7" height="2.5"/><rect x="420.35" y="2926.2" width="14.7" height="2.5"/><rect x="448.85" y="2872" width="14.7" height="2.5"/><rect x="477.35" y="2969.9" width="14.7" height="2.5"/><rect x="505.85" y="2738.6" width="14.7" height="2.5"/><rect x="534.25" y="2994.9" width="14.7" height="2"/><rect x="619.75" y="2911.6" width="14.7" height="2.5"/><rect x="648.15" y="2992.8" width="14.7" height="2.5"/><rect x="676.65" y="2947" width="14.7" height="2.5"/><rect x="705.15" y="2838.6" width="14.7" height="2.5"/><rect x="733.65" y="2680.2" width="14.7" height="2.5"/><rect x="762.05" y="2919.9" width="14.7" height="2.5"/><rect x="790.55" y="2936.6" width="14.7" height="2.5"/><rect x="875.95" y="2976.2" width="14.7" height="2.5"/><rect x="904.45" y="2967.8" width="14.7" height="2.5"/><rect x="932.95" y="2986.6" width="14.7" height="2.5"/>
</g>
<g font-size="11.5" fill="#404040" text-anchor="middle">
<text x="86" y="2892.7">4.7</text><text x="114.5" y="2678">15.0</text><text x="143" y="2771.8">10.5</text><text x="171.4" y="2915.6">3.6</text><text x="199.9" y="2967.7">1.1</text><text x="228.4" y="2942.7">2.3</text><text x="256.9" y="2982.3">0.4</text><text x="285.3" y="2948.9">2.0</text><text x="313.8" y="2911.4">3.8</text><text x="342.3" y="2846.8">6.9</text><text x="370.8" y="2782.2">10.0</text><text x="399.2" y="2938.5">2.5</text><text x="427.7" y="2917.7">3.5</text><text x="456.2" y="2863.5">6.1</text><text x="484.7" y="2961.4">1.4</text><text x="513.2" y="2730.1">12.5</text><text x="541.6" y="2986.4">0.2</text><text x="570.1" y="2988.5">0.1</text><text x="598.6" y="2990.6">0.0</text><text x="627.1" y="2903.1">4.2</text><text x="655.5" y="2984.3">0.3</text><text x="684" y="2938.5">2.5</text><text x="712.5" y="2830.1">7.7</text><text x="741" y="2671.7">15.3</text><text x="769.4" y="2911.4">3.8</text><text x="797.9" y="2928.1">3.0</text><text x="826.4" y="2988.5">0.1</text><text x="854.9" y="2988.5">0.1</text><text x="883.3" y="2967.7">1.1</text><text x="911.8" y="2959.3">1.5</text><text x="940.3" y="2978.1">0.6</text>
</g>
<g class="t" text-anchor="middle">
<text x="86" y="3020.9">1</text><text x="114.5" y="3020.9">2</text><text x="143" y="3020.9">3</text><text x="171.4" y="3020.9">4</text><text x="199.9" y="3020.9">5</text><text x="228.4" y="3020.9">6</text><text x="256.9" y="3020.9">7</text><text x="285.3" y="3020.9">8</text><text x="313.8" y="3020.9">9</text><text x="342.3" y="3020.9">10</text><text x="370.8" y="3020.9">11</text><text x="399.2" y="3020.9">12</text><text x="427.7" y="3020.9">13</text><text x="456.2" y="3020.9">14</text><text x="484.7" y="3020.9">15</text><text x="513.2" y="3020.9">16</text><text x="541.6" y="3020.9">17</text><text x="570.1" y="3020.9">18</text><text x="598.6" y="3020.9">19</text><text x="627.1" y="3020.9">20</text><text x="655.5" y="3020.9">21</text><text x="684" y="3020.9">22</text><text x="712.5" y="3020.9">23</text><text x="741" y="3020.9">24</text><text x="769.4" y="3020.9">25</text><text x="797.9" y="3020.9">26</text><text x="826.4" y="3020.9">27</text><text x="854.9" y="3020.9">28</text><text x="883.3" y="3020.9">29</text><text x="911.8" y="3020.9">30</text><text x="940.3" y="3020.9">31</text>
</g>
<text class="ax" x="510" y="3046.4" text-anchor="middle" font-size="11.5">Day</text>
<text class="ax" x="0" y="0" text-anchor="middle" transform="translate(31.5,2853.7) rotate(-90)" font-size="11.5" textLength="61" lengthAdjust="spacingAndGlyphs">Rainfall MM</text>
</svg>
<script>
(function(){
var svg=document.getElementById('root');var ns=svg.namespaceURI;
var list=svg.querySelectorAll('polyline.s');
for(var k=0;k<list.length;k++){
 var pl=list[k];
 var a=pl.getAttribute('points').trim().split(/\s+/).map(function(p){var q=p.split(',');return [+q[0],+q[1]];});
 if(a.length<2)continue;
 var d='M'+a[0][0]+' '+a[0][1];
 for(var i=0;i<a.length-1;i++){
  var p0=a[i-1]||a[i],p1=a[i],p2=a[i+1],p3=a[i+2]||a[i+1];
  d+=' C'+(p1[0]+(p2[0]-p0[0])/6).toFixed(2)+' '+(p1[1]+(p2[1]-p0[1])/6).toFixed(2)+' '+(p2[0]-(p3[0]-p1[0])/6).toFixed(2)+' '+(p2[1]-(p3[1]-p1[1])/6).toFixed(2)+' '+p2[0]+' '+p2[1];
 }
 var p=document.createElementNS(ns,'path');
 p.setAttribute('d',d);
 ['stroke','stroke-width','stroke-dasharray','stroke-linecap','stroke-linejoin'].forEach(function(n){var v=pl.getAttribute(n);if(v)p.setAttribute(n,v);});
 p.setAttribute('fill','none');
 pl.parentNode.insertBefore(p,pl);
 pl.setAttribute('stroke','none');
}
})();
</script>
</body></html>
